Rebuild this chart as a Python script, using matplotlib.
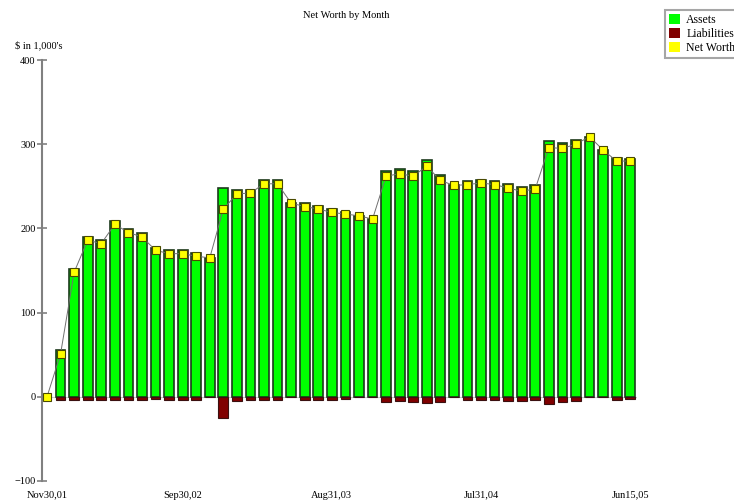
import numpy as np
import matplotlib
matplotlib.use("Agg")
import matplotlib.pyplot as plt
from matplotlib.patches import Patch

plt.rcParams["font.family"] = ["Liberation Serif", "DejaVu Serif"]

# Monthly values, $ in 1,000's (first point Nov30,01 ... last Jun15,05)
assets = [0, 55, 152, 190, 186, 209, 199, 194, 177, 174, 174, 171, 165, 248, 246,
          246, 257, 257, 230, 230, 227, 223, 220, 215, 211, 268, 270, 268, 281,
          263, 251, 256, 258, 256, 253, 249, 251, 304, 301, 305, 309, 293, 284, 283]
liabilities = [0, -4, -4, -4, -4, -4, -4, -4, -3, -4, -4, -4, 0, -25, -5,
               -4, -4, -4, 0, -4, -4, -4, -3, 0, 0, -6, -5, -6, -7,
               -6, 0, -4, -4, -4, -5, -5, -4, -8, -6, -5, 0, 0, -4, -3]
net_worth = [0, 51, 148, 186, 182, 205, 195, 190, 174, 170, 170, 167, 165, 223, 241,
             242, 253, 253, 230, 226, 223, 219, 217, 215, 211, 262, 265, 262, 274,
             257, 251, 252, 254, 252, 248, 244, 247, 296, 295, 300, 309, 293, 280, 280]

tick_idx = [0, 10, 21, 32, 43]
tick_labels = ["Nov30,01", "Sep30,02", "Aug31,03", "Jul31,04", "Jun15,05"]

x = np.arange(len(assets))

fig = plt.figure(figsize=(7.34, 5.04), dpi=100)
ax = fig.add_axes([42 / 734, 23 / 504, 595 / 734, 421 / 504])

# bars start at index 1, the first point is only a net worth marker
ax.bar(x[1:], assets[1:], width=0.72, color="#00ff00", edgecolor="#1c3a1c", linewidth=1.2, zorder=2)
ax.bar(x[1:], liabilities[1:], width=0.72, color="#800000", edgecolor="#3a1010", linewidth=0.8, zorder=2)
ax.axhline(0, color="#c8c8c8", linewidth=0.8, zorder=1)
ax.plot(x, net_worth, color="#707070", linewidth=0.7, zorder=3,
        marker="s", markersize=5.5, markerfacecolor="#ffff00", markeredgecolor="#4a4a00",
        markeredgewidth=0.8)

ax.set_xlim(-0.37, 43.5)
ax.set_ylim(-100, 400)
ax.set_yticks([-100, 0, 100, 200, 300, 400])
ax.set_xticks(tick_idx)
ax.set_xticklabels(tick_labels)

for s in ["top", "right", "bottom"]:
    ax.spines[s].set_visible(False)
ax.spines["left"].set_color("#808080")
ax.spines["left"].set_linewidth(1.5)
ax.tick_params(axis="y", direction="inout", length=7, width=1.2, color="#808080",
               labelsize=7.5, pad=1)
ax.tick_params(axis="x", length=0, labelsize=7.5, pad=7)

fig.text(346 / 734, 1 - 16 / 504, "Net Worth by Month", ha="center", va="center", fontsize=7.5)
fig.text(15 / 734, 1 - 45 / 504, "$ in 1,000's", ha="left", va="center", fontsize=7.5)

handles = [Patch(facecolor="#00ff00", edgecolor="none"),
           Patch(facecolor="#800000", edgecolor="none"),
           Patch(facecolor="#ffff00", edgecolor="none")]
leg = fig.legend(handles, ["Assets", "Liabilities", "Net Worth"], loc="upper left",
                 bbox_to_anchor=(665 / 734, 1 - 10 / 504), fontsize=8.5, frameon=True,
                 fancybox=False, borderpad=0.3, labelspacing=0.15, handlelength=1.0,
                 handleheight=1.0, handletextpad=0.5, borderaxespad=0)
leg.get_frame().set_edgecolor("#909090")
leg.get_frame().set_linewidth(1.5)

fig.savefig("out.png", dpi=100)
